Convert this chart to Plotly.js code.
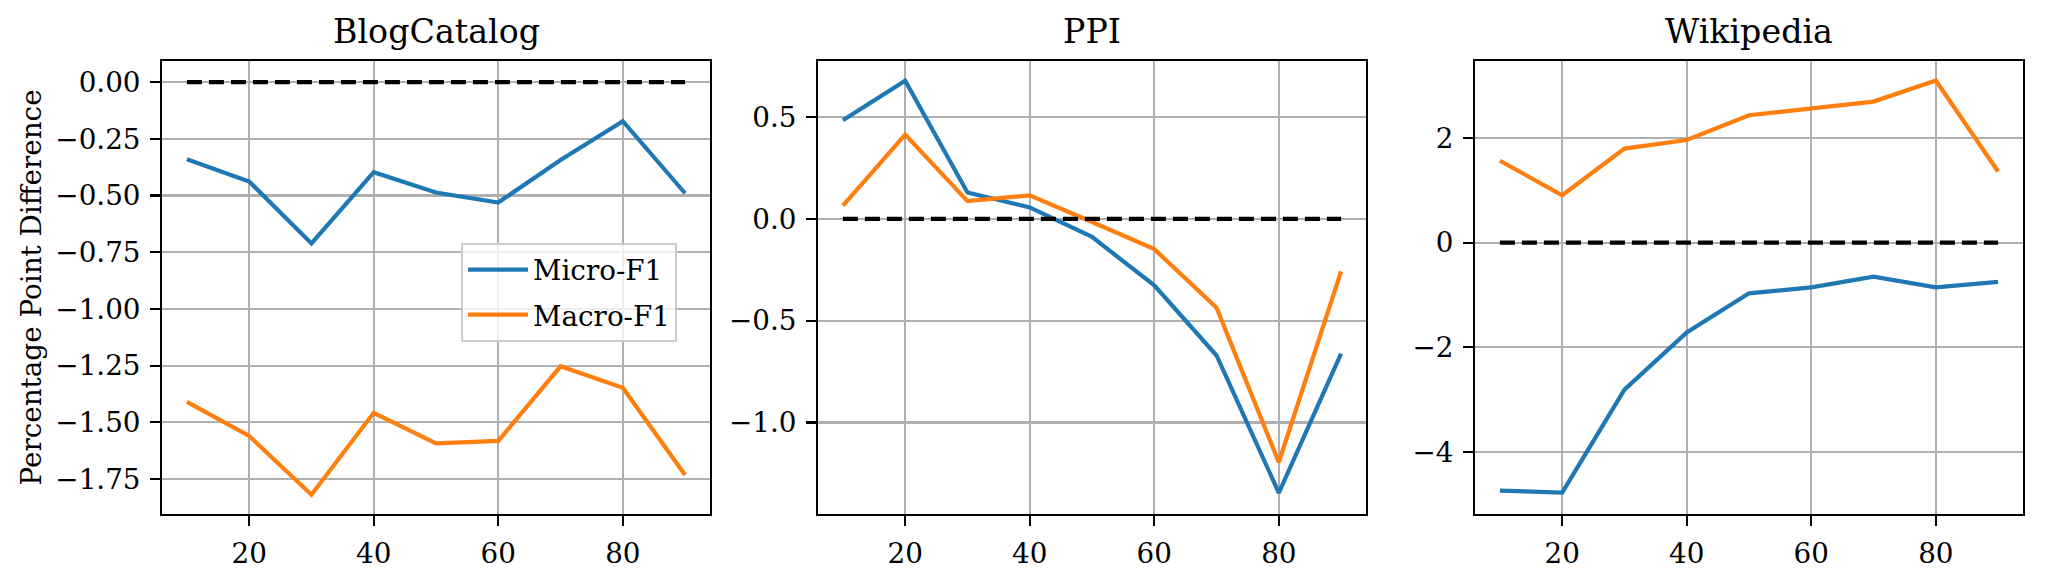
<!DOCTYPE html>
<html><head><meta charset="utf-8">
<script src="https://cdn.plot.ly/plotly-3.0.1.min.js"></script>
<style>html,body{margin:0;padding:0;background:#fff}#chart{width:2046px;height:581px}</style>
</head><body><div id="chart"></div>
<script>
// Data (x = training percentage)
const trainPct = [10, 20, 30, 40, 50, 60, 70, 80, 90];

const blogMicro = [-0.340, -0.438, -0.711, -0.397, -0.487, -0.531, -0.343, -0.172, -0.490];
const blogMacro = [-1.410, -1.560, -1.819, -1.458, -1.593, -1.582, -1.253, -1.348, -1.732];

const ppiMicro = [0.484, 0.678, 0.129, 0.056, -0.089, -0.327, -0.671, -1.345, -0.662];
const ppiMacro = [0.065, 0.413, 0.087, 0.115, -0.016, -0.149, -0.436, -1.195, -0.258];

const wikiMicro = [-4.743, -4.779, -2.811, -1.720, -0.970, -0.857, -0.651, -0.857, -0.750];
const wikiMacro = [1.565, 0.906, 1.798, 1.961, 2.435, 2.563, 2.697, 3.101, 1.359];

const refX = [10, 90];
const refY = [0, 0];

const panelTitles = ["BlogCatalog", "PPI", "Wikipedia"];
const seriesNames = ["Micro-F1", "Macro-F1"];

const xTickVals = [20, 40, 60, 80];
const xTickText = ["20", "40", "60", "80"];
const blogTickVals = [0, -0.25, -0.5, -0.75, -1.0, -1.25, -1.5, -1.75];
const blogTickText = ["0.00", "\u22120.25", "\u22120.50", "\u22120.75", "\u22121.00", "\u22121.25", "\u22121.50", "\u22121.75"];
const ppiTickVals = [0.5, 0.0, -0.5, -1.0];
const ppiTickText = ["0.5", "0.0", "\u22120.5", "\u22121.0"];
const wikiTickVals = [2, 0, -2, -4];
const wikiTickText = ["2", "0", "\u22122", "\u22124"];

const yLabel = "Percentage Point Difference";

// Styling
const FONT = "DejaVu Serif, serif";
const BLUE = "#1f77b4", ORANGE = "#ff7f0e";
const LW = 4.2;

const panels = [
  {micro: blogMicro, macro: blogMacro, xa: "x", ya: "y"},
  {micro: ppiMicro, macro: ppiMacro, xa: "x2", ya: "y2"},
  {micro: wikiMicro, macro: wikiMacro, xa: "x3", ya: "y3"}
];

const traces = [];
panels.forEach((p, i) => {
  traces.push({x: trainPct, y: p.micro, xaxis: p.xa, yaxis: p.ya, type: "scatter", mode: "lines",
    name: seriesNames[0], legendgroup: "micro", showlegend: i === 0,
    line: {color: BLUE, width: LW}, hoverinfo: "x+y"});
  traces.push({x: trainPct, y: p.macro, xaxis: p.xa, yaxis: p.ya, type: "scatter", mode: "lines",
    name: seriesNames[1], legendgroup: "macro", showlegend: i === 0,
    line: {color: ORANGE, width: LW}, hoverinfo: "x+y"});
  traces.push({x: refX, y: refY, xaxis: p.xa, yaxis: p.ya, type: "scatter", mode: "lines",
    showlegend: false, line: {color: "black", width: LW, dash: "15px,7px"}, hoverinfo: "skip"});
});

const W = 2046, H = 581;
const axTop = 61, axBottom = 514;
const lefts = [162, 818, 1475], rights = [710, 1366, 2023];
const yDom = [1 - axBottom / H, 1 - axTop / H];

function xAxis(i) {
  return {
    domain: [lefts[i] / W, rights[i] / W], anchor: i === 0 ? "y" : "y" + (i + 1),
    range: [6, 94], tickmode: "array", tickvals: xTickVals, ticktext: xTickText,
    showline: true, mirror: true, linecolor: "black", linewidth: 2.2,
    ticks: "outside", ticklen: 9.7, tickwidth: 2.2, tickcolor: "black",
    showgrid: true, gridcolor: "#b0b0b0", gridwidth: 2.2, zeroline: false,
    tickfont: {family: FONT, size: 27.8, color: "black"}, ticklabelstandoff: 4
  };
}
function yAxis(i, range, tv, tt) {
  return {
    domain: yDom, anchor: i === 0 ? "x" : "x" + (i + 1),
    range: range, tickmode: "array", tickvals: tv, ticktext: tt,
    showline: true, mirror: true, linecolor: "black", linewidth: 2.2,
    ticks: "outside", ticklen: 9.7, tickwidth: 2.2, tickcolor: "black",
    showgrid: true, gridcolor: "#b0b0b0", gridwidth: 2.2, zeroline: false,
    tickfont: {family: FONT, size: 27.8, color: "black"}, ticklabelstandoff: 4
  };
}

const annotations = panelTitles.map((t, i) => ({
  text: t, xref: "paper", yref: "paper",
  x: (lefts[i] + rights[i]) / 2 / W, y: 1 - 53 / H,
  xanchor: "center", yanchor: "bottom", showarrow: false,
  font: {family: FONT, size: 33.3, color: "black"}
}));
annotations.push({
  text: yLabel, xref: "paper", yref: "paper",
  x: 31 / W, y: 1 - ((axTop + axBottom) / 2) / H, textangle: -90,
  xanchor: "center", yanchor: "middle", showarrow: false,
  font: {family: FONT, size: 27.8, color: "black"}
});

const layout = {
  width: W, height: H,
  margin: {l: 0, r: 0, t: 0, b: 0},
  paper_bgcolor: "white", plot_bgcolor: "white",
  font: {family: FONT, color: "black"},
  showlegend: true,
  legend: {
    x: 461 / W, y: 1 - 243 / H, xanchor: "left", yanchor: "top",
    bgcolor: "rgba(255,255,255,0.8)", bordercolor: "#cccccc", borderwidth: 2,
    font: {family: FONT, size: 27.8, color: "black"}, itemwidth: 60, tracegroupgap: 6,
    entrywidth: 225, entrywidthmode: "pixels"
  },
  xaxis: xAxis(0), xaxis2: xAxis(1), xaxis3: xAxis(2),
  yaxis: yAxis(0, [-1.904, 0.093], blogTickVals, blogTickText),
  yaxis2: yAxis(1, [-1.449, 0.7745], ppiTickVals, ppiTickText),
  yaxis3: yAxis(2, [-5.19, 3.473], wikiTickVals, wikiTickText),
  annotations: annotations
};

Plotly.newPlot("chart", traces, layout, {displayModeBar: false, staticPlot: true});
</script>
</body></html>
